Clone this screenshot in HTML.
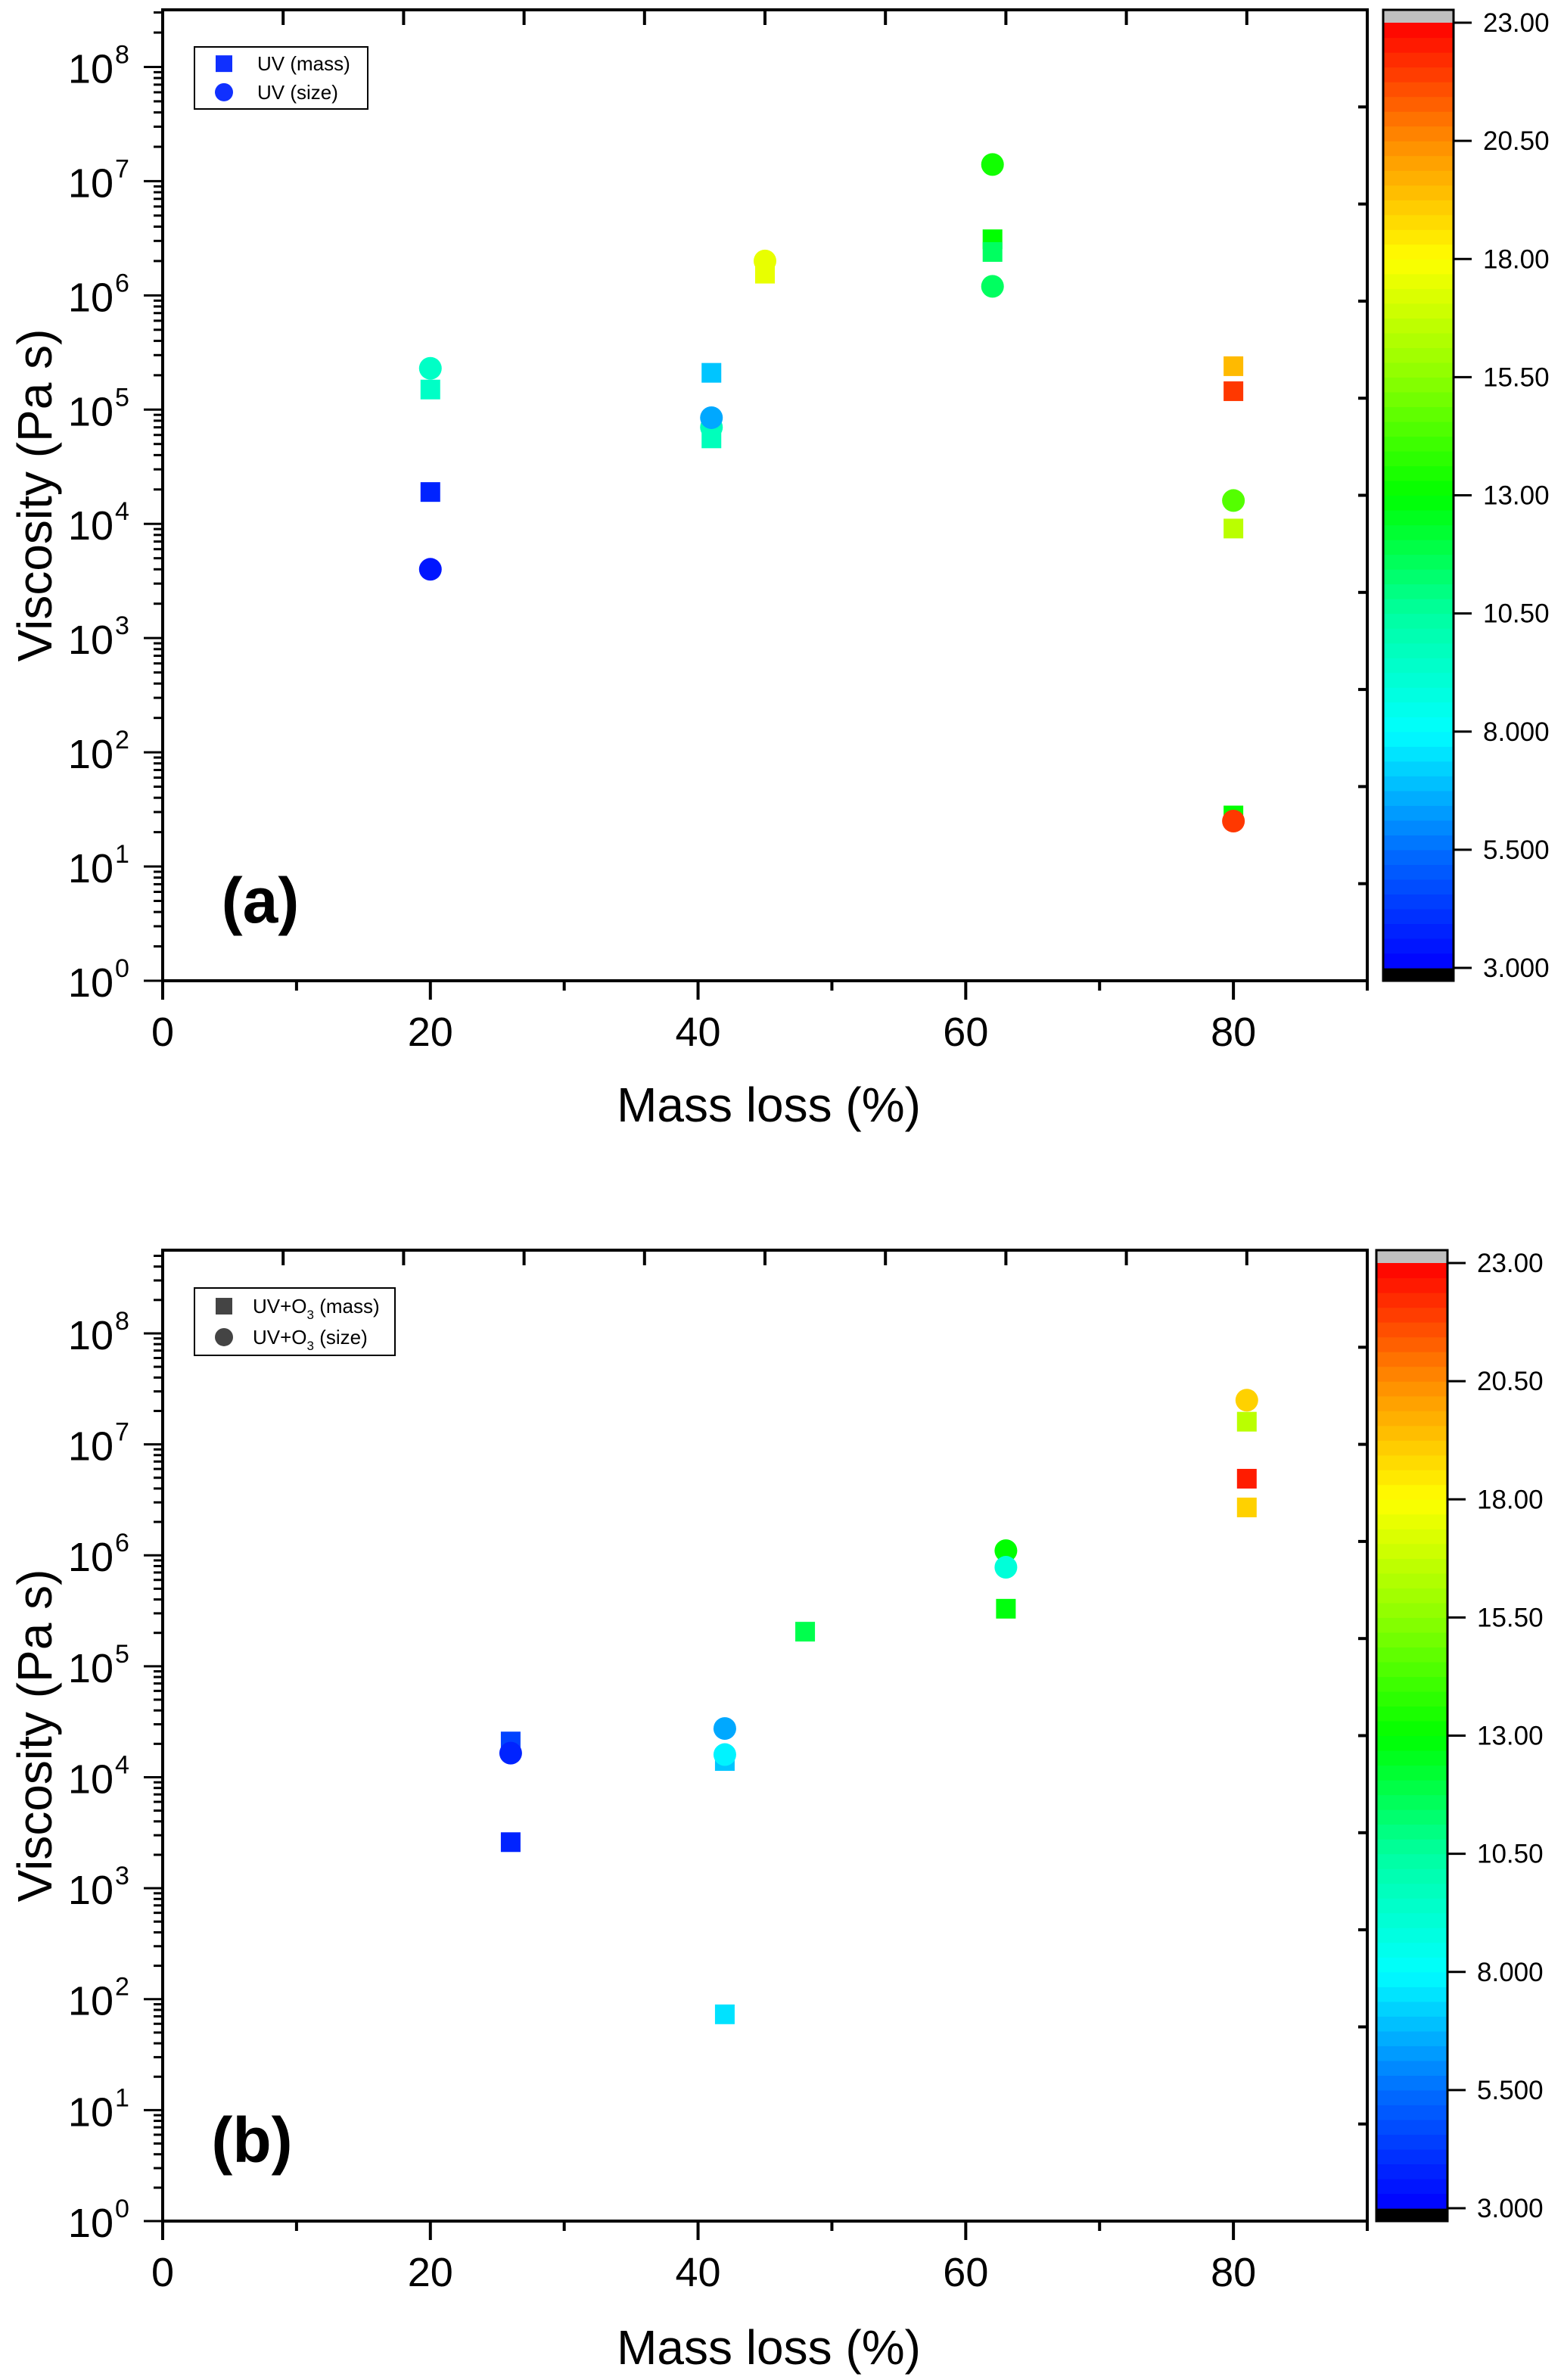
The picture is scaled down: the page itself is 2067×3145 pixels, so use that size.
<!DOCTYPE html>
<html><head><meta charset="utf-8"><style>
html,body{margin:0;padding:0;background:#fff;}
svg{display:block;font-family:"Liberation Sans",Arial,sans-serif;}
</style></head><body>
<svg id="fig" xmlns="http://www.w3.org/2000/svg" width="2067" height="3145" viewBox="0 0 2067 3145">
<rect width="2067" height="3145" fill="#fff"/>
</svg>
<script>
// ---- data (panel a: UV) ----
const aMassX=[20,20,41,41,45,62,62,80,80,80,80];
const aMassY=[1.9e4,1.5e5,2.1e5,5.6e4,1.55e6,3.1e6,2.4e6,2.4e5,1.45e5,9.1e3,28];
const aMassZ=[3.8,9.5,7.0,9.8,17.5,13.0,11.5,19.5,22.0,16.5,13.0];
const aSizeX=[20,20,41,41,45,62,62,80,80];
const aSizeY=[2.3e5,4.0e3,7.0e4,8.5e4,2.0e6,1.4e7,1.2e6,1.6e4,25];
const aSizeZ=[9.5,3.5,9.8,6.5,17.5,13.3,11.5,14.5,22.0];
// ---- data (panel b: UV+O3) ----
const bMassX=[26,26,42,42,48,63,81,81,81];
const bMassY=[2.1e4,2.6e3,1.4e4,73,2.05e5,3.3e5,1.6e7,4.9e6,2.7e6];
const bMassZ=[4.5,3.8,7.0,7.5,11.8,12.8,16.5,22.5,19.0];
const bSizeX=[26,42,42,63,63,81];
const bSizeY=[1.65e4,2.75e4,1.6e4,1.1e6,7.8e5,2.5e7];
const bSizeZ=[3.8,6.5,7.8,13.0,9.0,19.0];
// ---- ticks ----
const xTickVals=[0,20,40,60,80];
const yTickExps=[0,1,2,3,4,5,6,7,8];
const cbTickVals=[3,5.5,8,10.5,13,15.5,18,20.5,23];
const cbTickLabels=['3.000','5.500','8.000','10.50','13.00','15.50','18.00','20.50','23.00'];

const NS='http://www.w3.org/2000/svg';
const svg=document.getElementById('fig');
function mk(tag,attrs,parent){const e=document.createElementNS(NS,tag);for(const k in attrs)e.setAttribute(k,attrs[k]);(parent||svg).appendChild(e);return e;}

const stops=[[3,[0,0,255]],[5.5,[0,110,255]],[8,[0,255,255]],[10.5,[0,255,160]],[13,[0,255,0]],[15.5,[140,255,0]],[18,[255,255,0]],[20.5,[255,140,0]],[23,[255,0,0]]];
function cmap(z){
  if(z<=stops[0][0])return 'rgb(0,0,255)';
  for(let i=1;i<stops.length;i++){
    if(z<=stops[i][0]){const a=stops[i-1],b=stops[i];const t=(z-a[0])/(b[0]-a[0]);
      const c=a[1].map((v,j)=>Math.round(v+(b[1][j]-v)*t));return `rgb(${c[0]},${c[1]},${c[2]})`;}
  }
  return 'rgb(255,0,0)';
}

function panel(p){
  const g=mk('g',{});
  
  
  const L=215,R=1807,T=p.top,B=p.bottom;
  const xS=v=>L+(v-0)/90*(R-L);
  const yS=v=>B-Math.log10(v)/p.dec*(B-T);
  // colorbar
  const cb=mk('g',{},g);
  
  
  const cx0=p.cbX0,cx1=p.cbX1,cT=T+17,cB=B-17;
  const cy=z=>cB-(z-3)/20*(cB-cT);
  mk('rect',{x:cx0,y:T,width:cx1-cx0,height:17,fill:'#c0c0c0'},cb);
  mk('rect',{x:cx0,y:cB,width:cx1-cx0,height:17,fill:'#000'},cb);
  const n=64;
  for(let i=0;i<n;i++){
    const z0=3+20*i/n,z1=3+20*(i+1)/n;
    mk('rect',{x:cx0,y:cy(z1),width:cx1-cx0,height:cy(z0)-cy(z1)+0.6,fill:cmap((z0+z1)/2)},cb);
  }
  mk('rect',{x:cx0,y:T,width:cx1-cx0,height:B-T,fill:'none',stroke:'#000','stroke-width':3},cb);
  cbTickVals.forEach((v,i)=>{
    mk('line',{x1:cx1,x2:cx1+24,y1:cy(v),y2:cy(v),stroke:'#000','stroke-width':3},cb);
    const t=mk('text',{x:cx1+39,y:cy(v)+12,'font-size':35,fill:'#000'},cb);
    
    
    t.textContent=cbTickLabels[i];
  });
  // axes frame
  const ax=mk('g',{stroke:'#000','stroke-width':4},g);
  
  
  mk('rect',{x:L,y:T,width:R-L,height:B-T,fill:'none'},ax);
  for(let v=0;v<=90;v+=10){
    const major=v%20===0&&v<=80;
    mk('line',{x1:xS(v),x2:xS(v),y1:B,y2:B+(major?25:13)},ax);
  }
  for(let i=1;i<10;i++){
    const x=L+i*(R-L)/10;mk('line',{x1:x,x2:x,y1:T,y2:T+20},ax);
    const y=B-i*(B-T)/10;mk('line',{x1:R,x2:R-12,y1:y,y2:y},ax);
  }
  for(let e=0;e<=9;e++){
    for(let m=1;m<10;m++){
      const v=m*Math.pow(10,e);if(Math.log10(v)>p.dec)break;
      const y=yS(v);mk('line',{x1:L,x2:L-(m===1?25:12),y1:y,y2:y,'stroke-width':3},ax);
    }
  }
  xTickVals.forEach(v=>{
    const t=mk('text',{x:xS(v),y:B+86,'font-size':54,'text-anchor':'middle'},g);
    
    
    t.textContent=v;
  });
  yTickExps.forEach(e=>{
    const y=yS(Math.pow(10,e));
    const t=mk('text',{x:150,y:y+21,'font-size':54,'text-anchor':'end'},g);
    
    
    t.textContent='10';
    const s=mk('text',{x:152,y:y-5,'font-size':34},g);
    
    
    s.textContent=e;
  });
  const xt=mk('text',{x:1016,y:p.xTitleY,'font-size':64,'text-anchor':'middle'},g);
  
  
  xt.textContent='Mass loss (%)';
  const yt=mk('text',{x:0,y:0,'font-size':64,'text-anchor':'middle',transform:`translate(68,${(T+B)/2}) rotate(-90)`},g);
  
  
  yt.textContent='Viscosity (Pa s)';
  const pl=mk('text',{x:p.labelX,y:p.labelY,'font-size':84,'font-weight':'bold','text-anchor':'middle'},g);
  
  
  pl.textContent=p.label;
  p.massX.forEach((x,i)=>{
    const r=mk('rect',{x:xS(x)-13,y:yS(p.massY[i])-13,width:26,height:26,fill:cmap(p.massZ[i])},g);
    
    
  });
  p.sizeX.forEach((x,i)=>{
    const c=mk('circle',{cx:xS(x),cy:yS(p.sizeY[i]),r:15,fill:cmap(p.sizeZ[i])},g);
    
    
  });
  const lg=mk('g',{},g);
  
  
  const lb=p.legend;
  mk('rect',{x:257,y:lb.y,width:lb.w,height:lb.h,fill:'#fff',stroke:'#000','stroke-width':2},lg);
  const r1=lb.y+lb.h*0.27,r2=lb.y+lb.h*0.73;
  mk('rect',{x:285,y:r1-11,width:22,height:22,fill:lb.color},lg);
  mk('circle',{cx:296,cy:r2,r:12,fill:lb.color},lg);
  const t1=mk('text',{x:lb.tx,y:r1+9,'font-size':26},lg);
  
  
  t1.innerHTML=lb.t1;
  const t2=mk('text',{x:lb.tx,y:r2+9,'font-size':26},lg);
  
  
  t2.innerHTML=lb.t2;
}

panel({name:'panel-a',top:13,bottom:1296,dec:8.5,xTitleY:1482,label:'(a)',labelX:344,labelY:1219,cbX0:1828,cbX1:1921,
  massX:aMassX,massY:aMassY,massZ:aMassZ,sizeX:aSizeX,sizeY:aSizeY,sizeZ:aSizeZ,
  legend:{y:62,w:229,h:82,color:'#1030ff',tx:340,t1:'UV (mass)',t2:'UV (size)'}});
panel({name:'panel-b',top:1652,bottom:2935,dec:8.75,xTitleY:3124,label:'(b)',labelX:333,labelY:2857,cbX0:1819,cbX1:1913,
  massX:bMassX,massY:bMassY,massZ:bMassZ,sizeX:bSizeX,sizeY:bSizeY,sizeZ:bSizeZ,
  legend:{y:1702,w:265,h:89,color:'#444',tx:334,
    t1:'UV+O<tspan font-size="17" dy="8">3</tspan><tspan dy="-8"> (mass)</tspan>',
    t2:'UV+O<tspan font-size="17" dy="8">3</tspan><tspan dy="-8"> (size)</tspan>'}});
</script>
</body></html>
